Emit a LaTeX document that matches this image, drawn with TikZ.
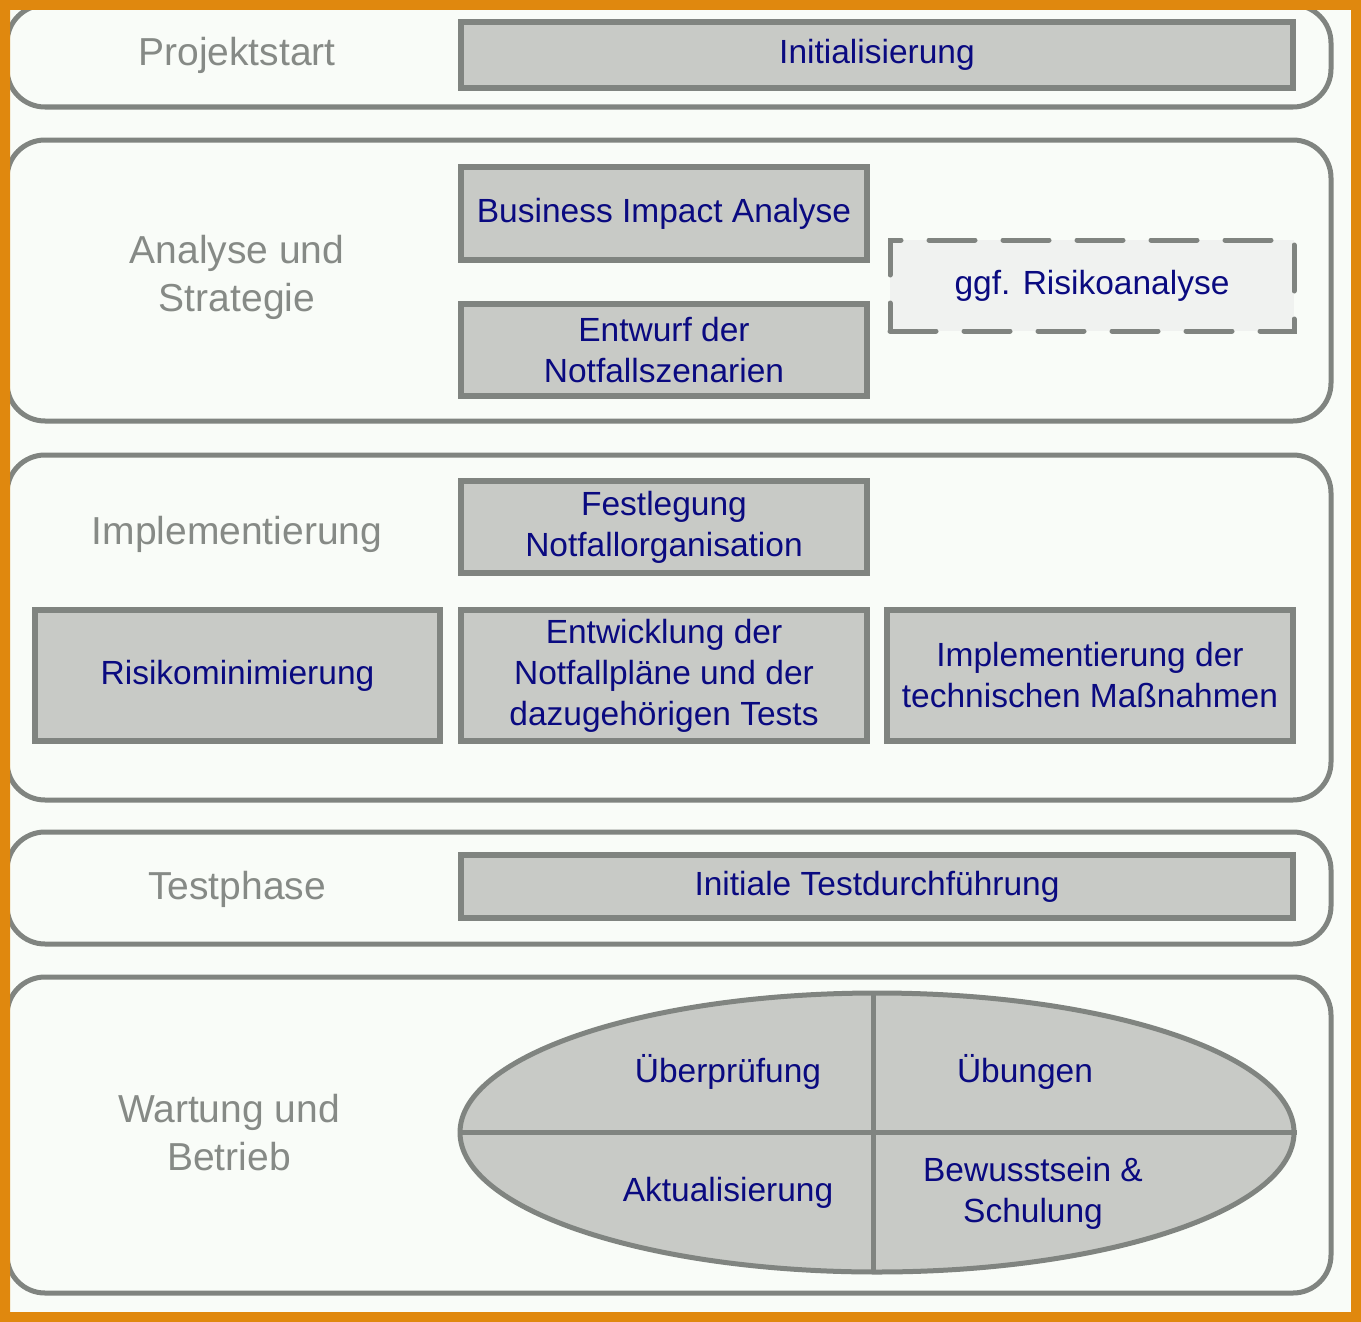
\documentclass[tikz,border=0pt]{standalone}
\usepackage{fontspec}
\setmainfont{Liberation Sans}
\usetikzlibrary{shapes.geometric}

\definecolor{frameorange}{RGB}{224,136,14}
\definecolor{paper}{RGB}{249,252,248}
\definecolor{rim}{RGB}{128,132,128}
\definecolor{boxfill}{RGB}{200,202,198}
\definecolor{dashfill}{RGB}{240,242,240}
\definecolor{navytext}{RGB}{10,10,128}
\definecolor{phasetext}{RGB}{134,138,134}

\begin{document}
\begin{tikzpicture}[x=1pt, y=-1pt,
  phase/.style={draw=rim, line width=5pt, rounded corners=38pt},
  phaselabel/.style={text=phasetext, align=center, font=\fontsize{39}{48}\selectfont},
  task/.style={draw=rim, fill=boxfill, line width=6pt, text=navytext, align=center,
    inner sep=0pt, font=\fontsize{33.5}{41}\selectfont},
  optional/.style={task, line width=5pt, fill=dashfill, dash pattern=on 46pt off 28pt, line cap=round},
  cycletext/.style={text=navytext, align=center, font=\fontsize{33.5}{41}\selectfont}]
\useasboundingbox (0,0) rectangle (1361,1322);
\fill[paper] (0,0) rectangle (1361,1322);
% phases
\draw[phase] (7,5) rectangle (1331,107);
\draw[phase] (7,140) rectangle (1331,421);
\draw[phase] (7,455) rectangle (1331,800);
\draw[phase] (7,832) rectangle (1331,944);
\draw[phase] (7,977) rectangle (1331,1293);
\draw (237,55)node[phaselabel](start){Projektstart};
\draw (237,277)node[phaselabel](analyse){Analyse und\\Strategie};
\draw (237,534)node[phaselabel](impl){Implementierung};
\draw (237,889)node[phaselabel](test){Testphase};
\draw (229,1133)node[phaselabel](betrieb){Wartung und\\Betrieb};
% tasks
\draw (877,55)node[task, minimum width=832pt, minimum height=66pt](init){Initialisierung};
\draw (664,213.5)node[task, minimum width=406pt, minimum height=93pt](bia){Business Impact Analyse};
\draw (664,350)node[task, minimum width=406pt, minimum height=92pt](szen){Entwurf der\\Notfallszenarien};
\draw (1092,285.5)node[optional, minimum width=404pt, minimum height=91pt](risk){ggf. Risikoanalyse};
\draw (664,527)node[task, minimum width=406pt, minimum height=92pt](orga){Festlegung\\Notfallorganisation};
\draw (237.5,675.5)node[task, minimum width=405pt, minimum height=131pt](mini){Risikominimierung};
\draw (664,675.5)node[task, minimum width=406pt, minimum height=131pt](plaene){Entwicklung der\\Notfallpläne und der\\dazugehörigen Tests};
\draw (1090,675.5)node[task, minimum width=406pt, minimum height=131pt](massn){Implementierung der\\technischen Maßnahmen};
\draw (877,886.5)node[task, minimum width=832pt, minimum height=63pt](testlauf){Initiale Testdurchführung};
% maintenance cycle
\draw (877,1132.5)node[task, line width=5pt, ellipse, minimum width=834pt, minimum height=279pt](cycle){};
\draw[rim, line width=5pt] (873,992) -- (873,1273);
\draw[rim, line width=5pt] (cycle.west) -- (cycle.east);
\draw (728,1072)node[cycletext](pruef){Überprüfung};
\draw (1025,1072)node[cycletext](uebung){Übungen};
\draw (728,1193)node[cycletext](aktual){Aktualisierung};
\draw (1033,1193)node[cycletext](schulung){Bewusstsein \&\\Schulung};
% frame
\fill[frameorange, even odd rule] (0,0) rectangle (1361,1322) (10,10) rectangle (1351,1312);
\end{tikzpicture}
\end{document}
